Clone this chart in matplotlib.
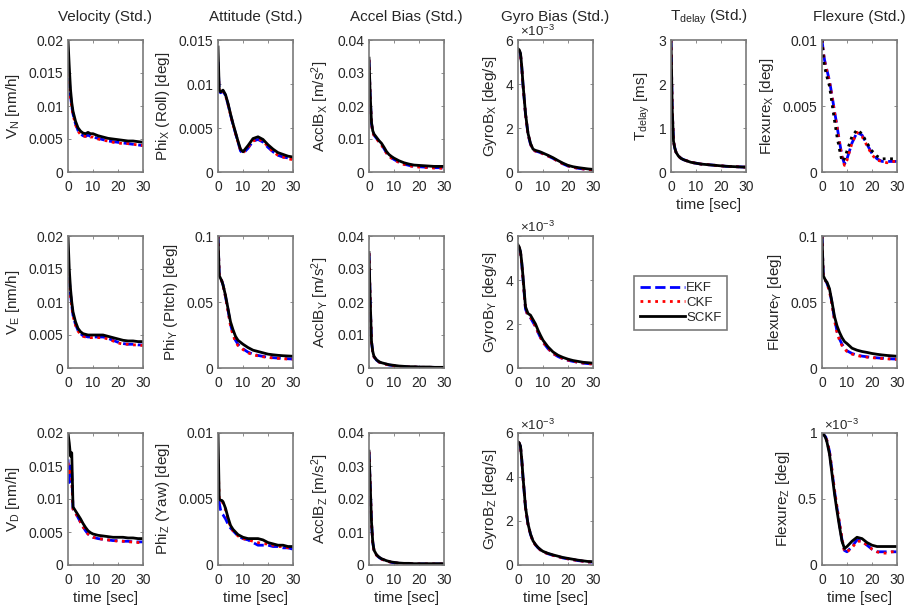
import numpy as np
import matplotlib
matplotlib.use('Agg')
import matplotlib.pyplot as plt
from matplotlib.lines import Line2D
from matplotlib.ticker import FuncFormatter

plt.rcParams['font.family'] = ['Liberation Sans', 'DejaVu Sans']
plt.rcParams['mathtext.fontset'] = 'custom'
plt.rcParams['mathtext.rm'] = 'Liberation Sans'
plt.rcParams['mathtext.it'] = 'Liberation Sans:italic'

# time axis [sec]
t = [0, 0.5, 1, 1.5, 2, 3, 4, 5, 6, 7, 8, 9, 10, 12, 14, 16, 18, 20, 22, 24, 26, 28, 30]

# ---- row 1 ----
vn_ekf = [0.0165, 0.0140, 0.0115, 0.0100, 0.0088, 0.0073, 0.0063, 0.0058, 0.0055, 0.0054, 0.0056, 0.0054, 0.0053, 0.0051, 0.0049, 0.0047, 0.0046, 0.0045, 0.0044, 0.0043, 0.0042, 0.0041, 0.0040]
vn_ckf = [0.0160, 0.0138, 0.0113, 0.0098, 0.0087, 0.0072, 0.0062, 0.0057, 0.0054, 0.0054, 0.0055, 0.0053, 0.0053, 0.0050, 0.0048, 0.0047, 0.0045, 0.0044, 0.0043, 0.0043, 0.0042, 0.0041, 0.0040]
vn_sckf = [0.0200, 0.0160, 0.0125, 0.0105, 0.0092, 0.0077, 0.0067, 0.0062, 0.0059, 0.0058, 0.0060, 0.0058, 0.0058, 0.0055, 0.0053, 0.0051, 0.0050, 0.0049, 0.0048, 0.0047, 0.0047, 0.0046, 0.0045]

phix_ekf = [0.0125, 0.0092, 0.0090, 0.0091, 0.0092, 0.0087, 0.0077, 0.0065, 0.0054, 0.0044, 0.0034, 0.0024, 0.0021, 0.0027, 0.0035, 0.0037, 0.0034, 0.0028, 0.0023, 0.0019, 0.0017, 0.0016, 0.0015]
phix_ckf = [0.0120, 0.0091, 0.0090, 0.0091, 0.0092, 0.0087, 0.0077, 0.0065, 0.0054, 0.0044, 0.0034, 0.0025, 0.0022, 0.0028, 0.0035, 0.0038, 0.0035, 0.0029, 0.0023, 0.0019, 0.0017, 0.0015, 0.0014]
phix_sckf = [0.0142, 0.0093, 0.0091, 0.0092, 0.0093, 0.0088, 0.0078, 0.0066, 0.0055, 0.0045, 0.0035, 0.0026, 0.0023, 0.0030, 0.0038, 0.0040, 0.0037, 0.0031, 0.0026, 0.0022, 0.0020, 0.0018, 0.0017]

acx_ekf = [0.0340, 0.0225, 0.0147, 0.0122, 0.0112, 0.0102, 0.0092, 0.0083, 0.0071, 0.0058, 0.0049, 0.0043, 0.0038, 0.0030, 0.0024, 0.0020, 0.0017, 0.0016, 0.0015, 0.0014, 0.0013, 0.0013, 0.0012]
acx_ckf = [0.0340, 0.0224, 0.0146, 0.0121, 0.0111, 0.0101, 0.0091, 0.0082, 0.0070, 0.0057, 0.0048, 0.0042, 0.0037, 0.0029, 0.0023, 0.0019, 0.0016, 0.0015, 0.0014, 0.0013, 0.0012, 0.0012, 0.0011]
acx_sckf = [0.0345, 0.0230, 0.0150, 0.0125, 0.0115, 0.0105, 0.0095, 0.0087, 0.0075, 0.0062, 0.0053, 0.0047, 0.0042, 0.0034, 0.0028, 0.0024, 0.0021, 0.0020, 0.0019, 0.0018, 0.0017, 0.0017, 0.0017]

gyx_ekf = [0.00555, 0.00550, 0.00535, 0.00475, 0.00395, 0.00262, 0.00172, 0.00126, 0.00100, 0.00095, 0.00092, 0.00088, 0.00083, 0.00073, 0.00062, 0.00049, 0.00037, 0.00027, 0.00021, 0.00017, 0.00014, 0.00011, 0.00009]
gyx_ckf = [0.00555, 0.00550, 0.00535, 0.00476, 0.00396, 0.00263, 0.00173, 0.00127, 0.00101, 0.00095, 0.00092, 0.00088, 0.00083, 0.00073, 0.00062, 0.00049, 0.00037, 0.00028, 0.00022, 0.00017, 0.00014, 0.00011, 0.00010]
gyx_sckf = [0.00560, 0.00555, 0.00540, 0.00480, 0.00400, 0.00266, 0.00176, 0.00130, 0.00104, 0.00098, 0.00095, 0.00091, 0.00086, 0.00076, 0.00065, 0.00052, 0.00040, 0.00030, 0.00024, 0.00020, 0.00017, 0.00014, 0.00012]

td_ekf = [3.00, 1.40, 0.70, 0.55, 0.45, 0.36, 0.31, 0.28, 0.26, 0.24, 0.22, 0.21, 0.20, 0.18, 0.17, 0.16, 0.15, 0.14, 0.13, 0.125, 0.12, 0.115, 0.11]
td_ckf = [3.00, 1.40, 0.70, 0.55, 0.45, 0.36, 0.31, 0.28, 0.26, 0.24, 0.22, 0.21, 0.20, 0.18, 0.17, 0.16, 0.15, 0.14, 0.13, 0.125, 0.12, 0.115, 0.11]
td_sckf = [3.00, 1.40, 0.70, 0.55, 0.45, 0.36, 0.31, 0.28, 0.26, 0.24, 0.22, 0.21, 0.20, 0.18, 0.17, 0.16, 0.15, 0.14, 0.13, 0.125, 0.12, 0.115, 0.11]

flx_ekf = [0.0100, 0.0092, 0.0085, 0.0081, 0.0077, 0.0069, 0.0058, 0.0046, 0.0035, 0.0023, 0.0012, 0.0006, 0.0010, 0.0022, 0.0030, 0.0028, 0.0021, 0.0014, 0.0010, 0.0008, 0.0008, 0.0008, 0.0008]
flx_ckf = [0.0100, 0.0091, 0.0084, 0.0080, 0.0076, 0.0068, 0.0057, 0.0045, 0.0034, 0.0022, 0.0011, 0.0005, 0.0009, 0.0022, 0.0030, 0.0027, 0.0020, 0.0013, 0.0009, 0.0008, 0.0007, 0.0008, 0.0008]
flx_sckf = [0.0100, 0.0088, 0.0080, 0.0076, 0.0072, 0.0065, 0.0052, 0.0039, 0.0027, 0.0017, 0.0008, 0.0010, 0.0016, 0.0027, 0.0032, 0.0029, 0.0022, 0.0016, 0.0012, 0.0010, 0.0010, 0.0010, 0.0010]

# ---- row 2 ----
ve_ekf = [0.0160, 0.0135, 0.0112, 0.0095, 0.0080, 0.0066, 0.0057, 0.0052, 0.0049, 0.0048, 0.0047, 0.0047, 0.0047, 0.0047, 0.0047, 0.0045, 0.0042, 0.0039, 0.0037, 0.0036, 0.0036, 0.0035, 0.0035]
ve_ckf = [0.0155, 0.0132, 0.0110, 0.0094, 0.0079, 0.0065, 0.0056, 0.0051, 0.0048, 0.0047, 0.0047, 0.0046, 0.0046, 0.0046, 0.0046, 0.0044, 0.0041, 0.0038, 0.0036, 0.0036, 0.0035, 0.0035, 0.0034]
ve_sckf = [0.0200, 0.0150, 0.0120, 0.0100, 0.0085, 0.0070, 0.0060, 0.0055, 0.0052, 0.0051, 0.0050, 0.0050, 0.0050, 0.0050, 0.0050, 0.0048, 0.0046, 0.0044, 0.0042, 0.0041, 0.0041, 0.0040, 0.0040]

phiy_ekf = [0.100, 0.070, 0.068, 0.066, 0.063, 0.054, 0.044, 0.033, 0.026, 0.021, 0.018, 0.016, 0.0145, 0.012, 0.0105, 0.0095, 0.0088, 0.0082, 0.0078, 0.0075, 0.0072, 0.0070, 0.0068]
phiy_ckf = [0.100, 0.070, 0.068, 0.066, 0.063, 0.054, 0.043, 0.032, 0.025, 0.020, 0.017, 0.0155, 0.014, 0.0115, 0.0100, 0.0092, 0.0085, 0.0080, 0.0076, 0.0073, 0.0070, 0.0068, 0.0066]
phiy_sckf = [0.100, 0.070, 0.068, 0.066, 0.063, 0.055, 0.045, 0.035, 0.029, 0.024, 0.021, 0.0195, 0.018, 0.0155, 0.0135, 0.0125, 0.0115, 0.0105, 0.0100, 0.0096, 0.0093, 0.0091, 0.0089]

acy_ekf = [0.0348, 0.0198, 0.0079, 0.0049, 0.0034, 0.0024, 0.0018, 0.0015, 0.0013, 0.0011, 0.0009, 0.0008, 0.0007, 0.0005, 0.0004, 0.0003, 0.0003, 0.0002, 0.0002, 0.0002, 0.0002, 0.0001, 0.0001]
acy_ckf = [0.0348, 0.0198, 0.0079, 0.0049, 0.0034, 0.0024, 0.0018, 0.0015, 0.0013, 0.0011, 0.0009, 0.0008, 0.0007, 0.0005, 0.0004, 0.0003, 0.0003, 0.0002, 0.0002, 0.0002, 0.0002, 0.0001, 0.0001]
acy_sckf = [0.0350, 0.0200, 0.0080, 0.0050, 0.0035, 0.0025, 0.0019, 0.0016, 0.0014, 0.0012, 0.0010, 0.0009, 0.0008, 0.0006, 0.0005, 0.0004, 0.0004, 0.0003, 0.0003, 0.0003, 0.0002, 0.0002, 0.0002]

gyy_ekf = [0.00555, 0.00545, 0.00525, 0.00475, 0.00405, 0.00268, 0.00236, 0.00228, 0.00208, 0.00188, 0.00162, 0.00138, 0.00117, 0.00088, 0.00066, 0.00052, 0.00042, 0.00035, 0.00030, 0.00026, 0.00022, 0.00020, 0.00018]
gyy_ckf = [0.00555, 0.00545, 0.00525, 0.00476, 0.00406, 0.00270, 0.00238, 0.00230, 0.00210, 0.00190, 0.00163, 0.00139, 0.00118, 0.00089, 0.00067, 0.00053, 0.00043, 0.00036, 0.00031, 0.00026, 0.00023, 0.00020, 0.00018]
gyy_sckf = [0.00560, 0.00550, 0.00530, 0.00480, 0.00415, 0.00278, 0.00248, 0.00240, 0.00220, 0.00200, 0.00172, 0.00148, 0.00126, 0.00096, 0.00073, 0.00058, 0.00048, 0.00040, 0.00034, 0.00030, 0.00026, 0.00024, 0.00022]

fly_ekf = [0.100, 0.070, 0.068, 0.066, 0.064, 0.059, 0.049, 0.037, 0.028, 0.022, 0.018, 0.015, 0.013, 0.011, 0.0098, 0.0090, 0.0085, 0.0080, 0.0077, 0.0074, 0.0071, 0.0069, 0.0067]
fly_ckf = [0.100, 0.070, 0.068, 0.066, 0.064, 0.058, 0.048, 0.036, 0.027, 0.021, 0.017, 0.0145, 0.0125, 0.0105, 0.0094, 0.0087, 0.0082, 0.0078, 0.0075, 0.0072, 0.0070, 0.0067, 0.0065]
fly_sckf = [0.100, 0.070, 0.068, 0.066, 0.065, 0.060, 0.050, 0.039, 0.032, 0.027, 0.023, 0.020, 0.0185, 0.015, 0.0135, 0.0125, 0.0118, 0.0110, 0.0104, 0.0099, 0.0095, 0.0092, 0.0089]

# ---- row 3 ----
vd_ekf = [0.0160, 0.0125, 0.0150, 0.0140, 0.0085, 0.0079, 0.0072, 0.0065, 0.0058, 0.0052, 0.0047, 0.0044, 0.0042, 0.0040, 0.0039, 0.0038, 0.0037, 0.0037, 0.0036, 0.0036, 0.0035, 0.0035, 0.0035]
vd_ckf = [0.0155, 0.0140, 0.0145, 0.0130, 0.0085, 0.0079, 0.0072, 0.0065, 0.0058, 0.0052, 0.0047, 0.0044, 0.0042, 0.0040, 0.0039, 0.0038, 0.0037, 0.0036, 0.0036, 0.0035, 0.0035, 0.0034, 0.0034]
vd_sckf = [0.0200, 0.0185, 0.0165, 0.0170, 0.0088, 0.0082, 0.0076, 0.0070, 0.0063, 0.0057, 0.0052, 0.0049, 0.0047, 0.0045, 0.0044, 0.0043, 0.0042, 0.0042, 0.0042, 0.0041, 0.0041, 0.0040, 0.0040]

phiz_ekf = [0.0060, 0.0047, 0.0042, 0.0039, 0.0038, 0.0035, 0.0031, 0.0028, 0.0026, 0.0024, 0.0022, 0.0021, 0.0020, 0.0019, 0.0017, 0.0015, 0.0015, 0.0015, 0.0014, 0.0014, 0.0013, 0.0013, 0.0012]
phiz_ckf = [0.0080, 0.0049, 0.0048, 0.0048, 0.0047, 0.0042, 0.0035, 0.0029, 0.0026, 0.0024, 0.0022, 0.0021, 0.0020, 0.0019, 0.0018, 0.0017, 0.0016, 0.0016, 0.0015, 0.0014, 0.0014, 0.0013, 0.0013]
phiz_sckf = [0.0100, 0.0050, 0.0049, 0.0049, 0.0048, 0.0043, 0.0036, 0.0030, 0.0027, 0.0025, 0.0023, 0.0022, 0.0021, 0.0020, 0.0020, 0.0020, 0.0019, 0.0017, 0.0016, 0.0015, 0.0015, 0.0014, 0.0014]

acz_ekf = [0.0343, 0.0238, 0.0128, 0.0069, 0.0044, 0.0030, 0.0023, 0.0018, 0.0015, 0.0012, 0.0010, 0.0008, 0.0007, 0.0005, 0.0004, 0.0004, 0.0003, 0.0003, 0.0003, 0.0003, 0.0003, 0.0003, 0.0003]
acz_ckf = [0.0343, 0.0238, 0.0128, 0.0069, 0.0044, 0.0030, 0.0023, 0.0018, 0.0015, 0.0012, 0.0010, 0.0008, 0.0007, 0.0005, 0.0004, 0.0004, 0.0003, 0.0003, 0.0003, 0.0003, 0.0003, 0.0003, 0.0003]
acz_sckf = [0.0345, 0.0240, 0.0130, 0.0070, 0.0045, 0.0031, 0.0024, 0.0019, 0.0016, 0.0013, 0.0011, 0.0009, 0.0008, 0.0006, 0.0005, 0.0005, 0.0004, 0.0004, 0.0004, 0.0004, 0.0004, 0.0004, 0.0004]

gyz_ekf = [0.00558, 0.00553, 0.00538, 0.00478, 0.00398, 0.00261, 0.00185, 0.00139, 0.00108, 0.00091, 0.00078, 0.00068, 0.00060, 0.00051, 0.00044, 0.00038, 0.00032, 0.00028, 0.00024, 0.00020, 0.00017, 0.00014, 0.00013]
gyz_ckf = [0.00558, 0.00553, 0.00538, 0.00478, 0.00398, 0.00261, 0.00185, 0.00139, 0.00108, 0.00091, 0.00078, 0.00068, 0.00060, 0.00051, 0.00044, 0.00038, 0.00032, 0.00028, 0.00024, 0.00020, 0.00017, 0.00014, 0.00013]
gyz_sckf = [0.00560, 0.00555, 0.00540, 0.00480, 0.00400, 0.00263, 0.00187, 0.00141, 0.00110, 0.00093, 0.00080, 0.00070, 0.00062, 0.00053, 0.00046, 0.00040, 0.00034, 0.00030, 0.00026, 0.00022, 0.00019, 0.00016, 0.00015]

flz_ekf = [0.00100, 0.00099, 0.00098, 0.00097, 0.00094, 0.00086, 0.00071, 0.00056, 0.00043, 0.00031, 0.00019, 0.00011, 0.00010, 0.00014, 0.00019, 0.00018, 0.00015, 0.00012, 0.00010, 0.00010, 0.00010, 0.00010, 0.00010]
flz_ckf = [0.00100, 0.00099, 0.00098, 0.00097, 0.00094, 0.00086, 0.00072, 0.00057, 0.00044, 0.00032, 0.00020, 0.00010, 0.00010, 0.00013, 0.00018, 0.00018, 0.00015, 0.00012, 0.00010, 0.00009, 0.00009, 0.00010, 0.00010]
flz_sckf = [0.00100, 0.00099, 0.00098, 0.00096, 0.00093, 0.00084, 0.00069, 0.00054, 0.00041, 0.00029, 0.00018, 0.000125, 0.00014, 0.00018, 0.00021, 0.00020, 0.00017, 0.00015, 0.00014, 0.00014, 0.00014, 0.00014, 0.00014]

col_titles = ['Velocity (Std.)', 'Attitude (Std.)', 'Accel Bias (Std.)',
              'Gyro Bias (Std.)', r'T$_\mathrm{delay}$ (Std.)', 'Flexure (Std.)']

# (row, col, data, ylabel, yticks, scaled x1e-3, sckf style)
panels = [
    (0, 0, (vn_ekf, vn_ckf, vn_sckf), r'V$_\mathrm{N}$ [nm/h]', [0, 0.005, 0.01, 0.015, 0.02], False, '-'),
    (0, 1, (phix_ekf, phix_ckf, phix_sckf), r'Phi$_\mathrm{X}$ (Roll) [deg]', [0, 0.005, 0.01, 0.015], False, '-'),
    (0, 2, (acx_ekf, acx_ckf, acx_sckf), r'AcclB$_\mathrm{X}$ [m/s$^\mathrm{2}$]', [0, 0.01, 0.02, 0.03, 0.04], False, '-'),
    (0, 3, (gyx_ekf, gyx_ckf, gyx_sckf), r'GyroB$_\mathrm{X}$ [deg/s]', [0, 0.002, 0.004, 0.006], True, '-'),
    (0, 4, (td_ekf, td_ckf, td_sckf), r'T$_\mathrm{delay}$ [ms]', [0, 1, 2, 3], False, '-'),
    (0, 5, (flx_ekf, flx_ckf, flx_sckf), r'Flexure$_\mathrm{X}$ [deg]', [0, 0.005, 0.01], False, ':'),
    (1, 0, (ve_ekf, ve_ckf, ve_sckf), r'V$_\mathrm{E}$ [nm/h]', [0, 0.005, 0.01, 0.015, 0.02], False, '-'),
    (1, 1, (phiy_ekf, phiy_ckf, phiy_sckf), r'Phi$_\mathrm{Y}$ (PItch) [deg]', [0, 0.05, 0.1], False, '-'),
    (1, 2, (acy_ekf, acy_ckf, acy_sckf), r'AcclB$_\mathrm{Y}$ [m/s$^\mathrm{2}$]', [0, 0.01, 0.02, 0.03, 0.04], False, '-'),
    (1, 3, (gyy_ekf, gyy_ckf, gyy_sckf), r'GyroB$_\mathrm{Y}$ [deg/s]', [0, 0.002, 0.004, 0.006], True, '-'),
    (1, 5, (fly_ekf, fly_ckf, fly_sckf), r'Flexure$_\mathrm{Y}$ [deg]', [0, 0.05, 0.1], False, '-'),
    (2, 0, (vd_ekf, vd_ckf, vd_sckf), r'V$_\mathrm{D}$ [nm/h]', [0, 0.005, 0.01, 0.015, 0.02], False, '-'),
    (2, 1, (phiz_ekf, phiz_ckf, phiz_sckf), r'Phi$_\mathrm{Z}$ (Yaw) [deg]', [0, 0.005, 0.01], False, '-'),
    (2, 2, (acz_ekf, acz_ckf, acz_sckf), r'AcclB$_\mathrm{Z}$ [m/s$^\mathrm{2}$]', [0, 0.01, 0.02, 0.03, 0.04], False, '-'),
    (2, 3, (gyz_ekf, gyz_ckf, gyz_sckf), r'GyroB$_\mathrm{Z}$ [deg/s]', [0, 0.002, 0.004, 0.006], True, '-'),
    (2, 5, (flz_ekf, flz_ckf, flz_sckf), r'Flexure$_\mathrm{Z}$ [deg]', [0, 0.0005, 0.001], True, '-'),
]

W, H = 907, 615
col_x = [68, 218, 369, 518, 671, 822]
row_y = [40, 236, 433]
aw, ah = 75, 132
txt = '#262626'
edge = '#7a7a7a'

fig = plt.figure(figsize=(W / 100, H / 100), dpi=100)

for row, col, (ekf, ckf, sckf), ylab, yt, scaled, sstyle in panels:
    ax = fig.add_axes([col_x[col] / W, 1 - (row_y[row] + ah) / H, aw / W, ah / H])
    ax.plot(t, ekf, color='b', ls='--', lw=2)
    ax.plot(t, ckf, color='r', ls=':', lw=2)
    ax.plot(t, sckf, color='k', ls=sstyle, lw=2)
    ax.set_xlim(0, 30)
    ax.set_ylim(yt[0], yt[-1])
    ax.set_xticks([0, 10, 20, 30])
    ax.set_yticks(yt)
    if scaled:
        ax.yaxis.set_major_formatter(FuncFormatter(lambda v, p: '%g' % round(v * 1000, 4)))
        ax.text(0.02, 1 + 3.5 / ah, r'$\times$10$^\mathrm{-3}$', transform=ax.transAxes,
                ha='left', va='baseline', fontsize=9.5, color=txt)
    else:
        ax.yaxis.set_major_formatter(FuncFormatter(lambda v, p: '%g' % round(v, 6)))
    ax.tick_params(direction='in', top=True, right=True, length=2, width=0.6,
                   color=edge, labelcolor=txt, labelsize=10)
    ax.tick_params(axis='x', pad=5.5)
    for s in ax.spines.values():
        s.set_color(edge)
        s.set_linewidth(1.2)
    ax.set_ylabel(ylab, fontsize=11, color=txt, labelpad=4.5)
    if row == 0:
        ax.set_title(col_titles[col], fontsize=11, color=txt, pad=14)
    if row == 2 or col == 4:
        ax.set_xlabel('time [sec]', fontsize=11, color=txt, labelpad=3)

handles = [Line2D([], [], color='b', ls='--', lw=2),
           Line2D([], [], color='r', ls=':', lw=2),
           Line2D([], [], color='k', ls='-', lw=2)]
leg = fig.legend(handles, ['EKF', 'CKF', 'SCKF'], loc='upper left',
                 bbox_to_anchor=(634 / W, 1 - 276 / H), borderaxespad=0,
                 fancybox=False, edgecolor=edge, framealpha=1, fontsize=9.5,
                 handlelength=3.4, handletextpad=0.1, labelspacing=0.2, borderpad=0.45)
leg.get_frame().set_linewidth(1.2)
for text in leg.get_texts():
    text.set_color(txt)

fig.savefig('out.png', dpi=100)
